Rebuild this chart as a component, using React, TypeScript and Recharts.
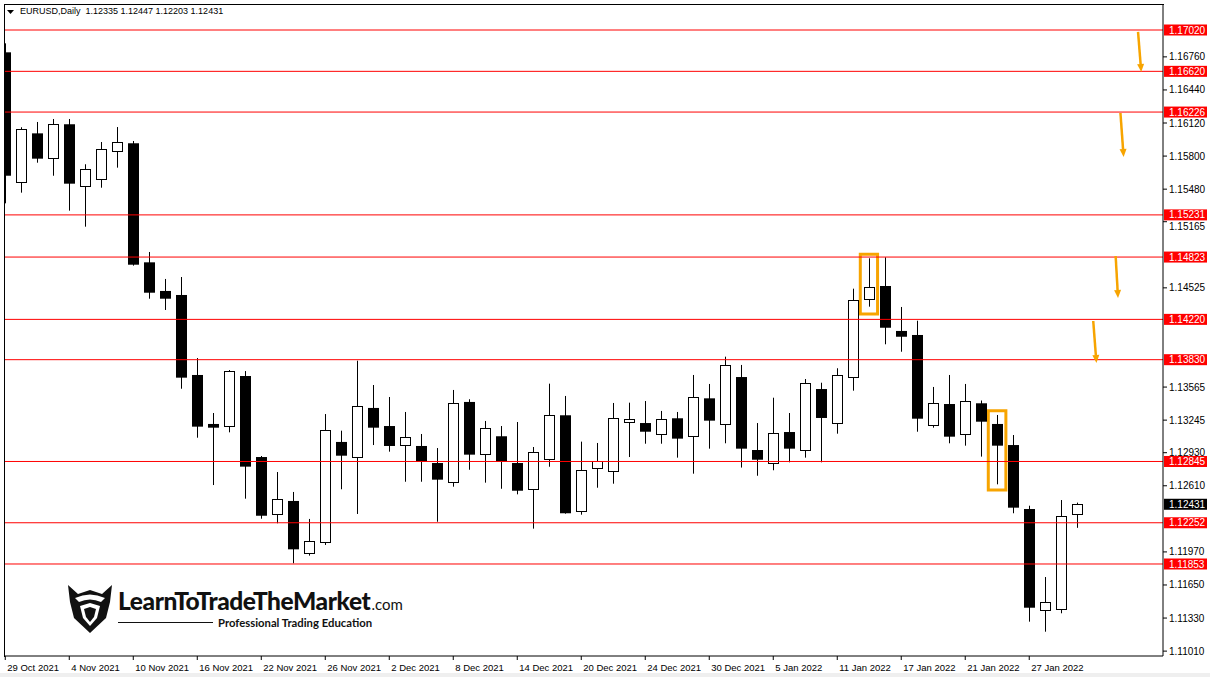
import React from 'react'
import {
    ComposedChart,
    Bar,
    XAxis,
    YAxis,
    ReferenceLine,
    ReferenceArea,
} from 'recharts'

const days = [
    '29 Oct 2021',
    '1 Nov 2021', '2 Nov 2021', '3 Nov 2021', '4 Nov 2021', '5 Nov 2021',
    '8 Nov 2021', '9 Nov 2021', '10 Nov 2021', '11 Nov 2021', '12 Nov 2021',
    '15 Nov 2021', '16 Nov 2021', '17 Nov 2021', '18 Nov 2021', '19 Nov 2021',
    '22 Nov 2021', '23 Nov 2021', '24 Nov 2021', '25 Nov 2021', '26 Nov 2021',
    '29 Nov 2021', '30 Nov 2021', '1 Dec 2021', '2 Dec 2021', '3 Dec 2021',
    '6 Dec 2021', '7 Dec 2021', '8 Dec 2021', '9 Dec 2021', '10 Dec 2021',
    '13 Dec 2021', '14 Dec 2021', '15 Dec 2021', '16 Dec 2021', '17 Dec 2021',
    '20 Dec 2021', '21 Dec 2021', '22 Dec 2021', '23 Dec 2021', '24 Dec 2021',
    '27 Dec 2021', '28 Dec 2021', '29 Dec 2021', '30 Dec 2021', '31 Dec 2021',
    '3 Jan 2022', '4 Jan 2022', '5 Jan 2022', '6 Jan 2022', '7 Jan 2022',
    '10 Jan 2022', '11 Jan 2022', '12 Jan 2022', '13 Jan 2022', '14 Jan 2022',
    '17 Jan 2022', '18 Jan 2022', '19 Jan 2022', '20 Jan 2022', '21 Jan 2022',
    '24 Jan 2022', '25 Jan 2022', '26 Jan 2022', '27 Jan 2022', '28 Jan 2022',
    '31 Jan 2022', '1 Feb 2022',
]

const opens = [
    1.16804, 1.15552, 1.16020, 1.15779, 1.16108, 1.15508, 1.15575, 1.15842, 1.15924, 1.14772,
    1.14495, 1.14456, 1.13682, 1.13208, 1.13182, 1.13672, 1.12888, 1.12334, 1.12463, 1.11957,
    1.12069, 1.13034, 1.12891, 1.13363, 1.13188, 1.13002, 1.12995, 1.12830, 1.12644, 1.13421,
    1.12914, 1.13089, 1.12830, 1.12576, 1.12869, 1.13292, 1.12363, 1.12779, 1.12750, 1.13227,
    1.13217, 1.13104, 1.13263, 1.13085, 1.13456, 1.13207, 1.13662, 1.12956, 1.12827, 1.13130,
    1.12956, 1.13546, 1.13214, 1.13662, 1.14414, 1.14543, 1.14108, 1.14069, 1.13195, 1.13401,
    1.13108, 1.13408, 1.13208, 1.13004, 1.12385, 1.11405, 1.11415, 1.12335,
]
const highs = [
    1.16891, 1.16079, 1.16130, 1.16159, 1.16159, 1.15721, 1.15936, 1.16081, 1.15946, 1.14872,
    1.14611, 1.14630, 1.13846, 1.13314, 1.13730, 1.13720, 1.12898, 1.12743, 1.12550, 1.12289,
    1.13304, 1.13143, 1.13820, 1.13585, 1.13469, 1.13324, 1.13111, 1.12975, 1.13537, 1.13447,
    1.13237, 1.13188, 1.13227, 1.12985, 1.13598, 1.13479, 1.13037, 1.13024, 1.13411, 1.13414,
    1.13430, 1.13334, 1.13324, 1.13682, 1.13595, 1.13859, 1.13779, 1.13217, 1.13462, 1.13314,
    1.13643, 1.13607, 1.13747, 1.14517, 1.14811, 1.14821, 1.14340, 1.14207, 1.13566, 1.13682,
    1.13595, 1.13435, 1.13295, 1.13101, 1.12417, 1.11727, 1.12472, 1.12447,
]
const lows = [
    1.15343, 1.15446, 1.15736, 1.15610, 1.15272, 1.15117, 1.15494, 1.15688, 1.14740, 1.14420,
    1.14311, 1.13549, 1.13075, 1.12617, 1.13127, 1.12485, 1.12291, 1.12247, 1.11860, 1.11934,
    1.12037, 1.12576, 1.12337, 1.13004, 1.12940, 1.12649, 1.12649, 1.12262, 1.12601, 1.12765,
    1.12640, 1.12581, 1.12527, 1.12195, 1.12794, 1.12340, 1.12330, 1.12591, 1.12630, 1.12888,
    1.13017, 1.13017, 1.12882, 1.12727, 1.12969, 1.13021, 1.12786, 1.12707, 1.12760, 1.12837,
    1.12882, 1.12837, 1.13114, 1.13530, 1.14343, 1.13979, 1.13907, 1.13133, 1.13172, 1.13021,
    1.12998, 1.12892, 1.12624, 1.12344, 1.11295, 1.11198, 1.11376, 1.12203,
]
const closes = [
    1.15610, 1.16062, 1.15775, 1.16108, 1.15533, 1.15672, 1.15866, 1.15933, 1.14749, 1.14478,
    1.14420, 1.13656, 1.13182, 1.13172, 1.13718, 1.12795, 1.12320, 1.12479, 1.11995, 1.12073,
    1.13150, 1.12901, 1.13382, 1.13172, 1.12995, 1.13079, 1.12840, 1.12669, 1.13408, 1.12911,
    1.13166, 1.12840, 1.12562, 1.12934, 1.13292, 1.12344, 1.12760, 1.12850, 1.13263, 1.13256,
    1.13133, 1.13253, 1.13066, 1.13466, 1.13240, 1.13776, 1.12969, 1.12862, 1.13118, 1.12969,
    1.13601, 1.13266, 1.13679, 1.14405, 1.14530, 1.14139, 1.14052, 1.13259, 1.13408, 1.13085,
    1.13427, 1.13230, 1.12998, 1.12398, 1.11430, 1.11485, 1.12317, 1.12431,
]

const tickDays = [
    '29 Oct 2021', '4 Nov 2021', '10 Nov 2021', '16 Nov 2021', '22 Nov 2021', '26 Nov 2021',
    '2 Dec 2021', '8 Dec 2021', '14 Dec 2021', '20 Dec 2021', '24 Dec 2021', '30 Dec 2021',
    '5 Jan 2022', '11 Jan 2022', '17 Jan 2022', '21 Jan 2022', '27 Jan 2022',
]
// only the price ticks that are not hidden under a level tag
const priceTicks = [
    1.16760, 1.16440, 1.16120, 1.15800, 1.15480, 1.15165, 1.14525,
    1.13565, 1.13245, 1.12930, 1.12610, 1.11970, 1.11650, 1.11330, 1.11010,
]
const levels = [1.17020, 1.16620, 1.16226, 1.15231, 1.14823, 1.14220, 1.13830, 1.12845, 1.12252, 1.11853]
const lastPrice = 1.12431

// hand-drawn marks on the screenshot, in bar index / price units
const boxes = [
    { x1: 53.44, x2: 54.52, y1: 1.14272, y2: 1.14850 },
    { x1: 61.44, x2: 62.54, y1: 1.12569, y2: 1.13336 },
]
const arrows = [
    { x1: 70.8, y1: 1.17001, x2: 71.0, y2: 1.16614 },
    { x1: 69.7, y1: 1.16217, x2: 69.9, y2: 1.15791 },
    { x1: 69.4, y1: 1.14833, x2: 69.55, y2: 1.14427 },
    { x1: 68.0, y1: 1.14204, x2: 68.2, y2: 1.13798 },
]

const data = days.map((d, i) => ({
    idx: i,
    day: d,
    open: opens[i],
    high: highs[i],
    low: lows[i],
    close: closes[i],
    range: [lows[i], highs[i]],
}))
const tickIdx = tickDays.map(d => days.indexOf(d))

const FONT = '"Liberation Sans", Arial, sans-serif'
const ORANGE = '#f7a400'

function Candle(props: any) {
    const { x, y, width, height, payload } = props
    if (x == null || !payload) return null
    const { open, close, high, low } = payload
    const top = Math.min(y, y + height)
    const h = Math.abs(height)
    const k = h / (high - low)
    const py = (v: number) => top + (high - v) * k
    const cx = Math.round(x + width / 2) + 0.5
    const bodyTop = py(Math.max(open, close))
    const bodyBot = py(Math.min(open, close))
    const bull = close >= open
    return (
        <g>
            <line x1={cx} x2={cx} y1={top} y2={top + h} stroke="#000" strokeWidth={1} />
            {bull ? (
                <rect
                    x={cx - 5}
                    y={Math.round(bodyTop) + 0.5}
                    width={10}
                    height={Math.max(1, Math.round(bodyBot - bodyTop))}
                    fill="#fff"
                    stroke="#000"
                    strokeWidth={1}
                />
            ) : (
                <rect x={cx - 5.5} y={bodyTop} width={11} height={Math.max(1, bodyBot - bodyTop)} fill="#000" />
            )}
        </g>
    )
}

function XTick(props: any) {
    const { x, y, payload } = props
    return (
        <text x={x + 2} y={y + 9} fontSize={9.5} fontFamily={FONT} fill="#000">
            {days[payload.value]}
        </text>
    )
}

// price labels; a label sitting right under a level tag is nudged down so it stays readable
function YTick(props: any) {
    const { x, y, payload } = props
    const v = payload.value as number
    const near = levels.some(l => l > v && l - v < 0.0009)
    return (
        <text x={x} y={y + 3.5 + (near ? 4.5 : 0)} fontSize={10} fontFamily={FONT} fill="#000">
            {v.toFixed(5)}
        </text>
    )
}

const priceTag = (value: number, bg: string) => (p: any) => {
    const vb = p.viewBox
    if (!vb) return null
    const x = vb.x + vb.width + 1
    const y = vb.y
    return (
        <g>
            <rect x={x} y={y - 5.5} width={43} height={11} fill={bg} />
            <text x={x + 5} y={y + 3.6} fontSize={10} fontFamily={FONT} fill="#fff">
                {value.toFixed(5)}
            </text>
        </g>
    )
}

function Arrow(p: any) {
    const { x1, y1, x2, y2 } = p
    const ang = Math.atan2(y2 - y1, x2 - x1)
    const bx = x2 - 8 * Math.cos(ang)
    const by = y2 - 8 * Math.sin(ang)
    const nx = -Math.sin(ang) * 3.5
    const ny = Math.cos(ang) * 3.5
    return (
        <g>
            <line x1={x1} y1={y1} x2={bx} y2={by} stroke={ORANGE} strokeWidth={2.5} />
            <polygon points={`${x2},${y2} ${bx + nx},${by + ny} ${bx - nx},${by - ny}`} fill={ORANGE} />
        </g>
    )
}

function Logo() {
    return (
        <div style={{ position: 'absolute', left: 66, top: 582, display: 'flex', alignItems: 'center' }}>
            <svg width={48} height={52} viewBox="0 0 48 52">
                <path d="M2 3 L12 12 L24 8 L36 12 L46 3 L44 20 L40 36 L24 51 L8 36 L4 20 Z" fill="#111" />
                <path d="M9 16 Q24 9 39 16 L35 20 Q24 15 13 20 Z" fill="#fff" />
                <path d="M14 24 L24 21 L34 24 L31 36 L24 44 L17 36 Z" fill="#fff" />
                <path d="M18 27 L24 25 L30 27 L28 35 L24 40 L20 35 Z" fill="#111" />
            </svg>
            <div style={{ marginLeft: 4, fontFamily: 'Lato, "Open Sans", sans-serif', color: '#111' }}>
                <div style={{ display: 'flex', alignItems: 'baseline', lineHeight: '25px' }}>
                    <span style={{ fontSize: 24.5, fontWeight: 900, letterSpacing: -0.4 }}>LearnToTradeTheMarket</span>
                    <span style={{ fontSize: 15, marginLeft: 1 }}>.com</span>
                </div>
                <div style={{ display: 'flex', alignItems: 'center', marginTop: -1 }}>
                    <div style={{ width: 95, height: 1, background: '#111', marginRight: 5 }} />
                    <span style={{ fontSize: 11.3, fontWeight: 700 }}>Professional Trading Education</span>
                </div>
            </div>
        </div>
    )
}

export default function App() {
    return (
        <div style={{ position: 'absolute', left: 0, top: 0, width: 1210, height: 677, background: '#fff', overflow: 'hidden' }}>
            <ComposedChart width={1210} height={677} data={data} margin={{ top: 4, left: 4, right: 0, bottom: 0 }}>
                <XAxis
                    dataKey="idx"
                    type="number"
                    domain={[-0.08, 72.36]}
                    allowDataOverflow
                    ticks={tickIdx}
                    interval={0}
                    height={21}
                    tickSize={4}
                    tick={<XTick />}
                    axisLine={{ stroke: '#000' }}
                    tickLine={{ stroke: '#000' }}
                />
                <YAxis
                    orientation="right"
                    type="number"
                    domain={[1.109628, 1.172716]}
                    allowDataOverflow
                    ticks={priceTicks}
                    interval={0}
                    width={47}
                    tickSize={4}
                    tick={<YTick />}
                    axisLine={{ stroke: '#000' }}
                    tickLine={{ stroke: '#000' }}
                />
                <Bar dataKey="range" barSize={11} shape={(p: any) => <Candle {...p} />} isAnimationActive={false} />
                {levels.map(v => (
                    <ReferenceLine key={v} y={v} stroke="#ff0000" strokeWidth={1} label={priceTag(v, '#ff0000')} />
                ))}
                <ReferenceLine y={lastPrice} stroke="none" label={priceTag(lastPrice, '#000')} />
                {boxes.map((b, i) => (
                    <ReferenceArea
                        key={'b' + i}
                        x1={b.x1}
                        x2={b.x2}
                        y1={b.y1}
                        y2={b.y2}
                        fill="none"
                        stroke={ORANGE}
                        strokeWidth={3}
                    />
                ))}
                {arrows.map((a, i) => (
                    <ReferenceLine
                        key={'a' + i}
                        segment={[{ x: a.x1, y: a.y1 }, { x: a.x2, y: a.y2 }]}
                        shape={(p: any) => <Arrow {...p} />}
                    />
                ))}
            </ComposedChart>
            {/* chart frame top/left edges */}
            <div style={{ position: 'absolute', left: 4, top: 4, width: 1159, height: 652, borderLeft: '1px solid #000', borderTop: '1px solid #000', pointerEvents: 'none' }} />
            <div style={{ position: 'absolute', left: 6, top: 6, display: 'flex', alignItems: 'center', fontFamily: FONT, fontSize: 9, color: '#000', whiteSpace: 'pre' }}>
                <svg width={10} height={8} style={{ marginRight: 4, marginTop: 1 }}>
                    <polygon points="1,2 8,2 4.5,6" fill="#000" />
                </svg>
                <span>{'EURUSD,Daily  1.12335 1.12447 1.12203 1.12431'}</span>
            </div>
            <Logo />
            <div style={{ position: 'absolute', left: 0, top: 673, width: 1210, height: 4, background: '#efefef' }} />
        </div>
    )
}
